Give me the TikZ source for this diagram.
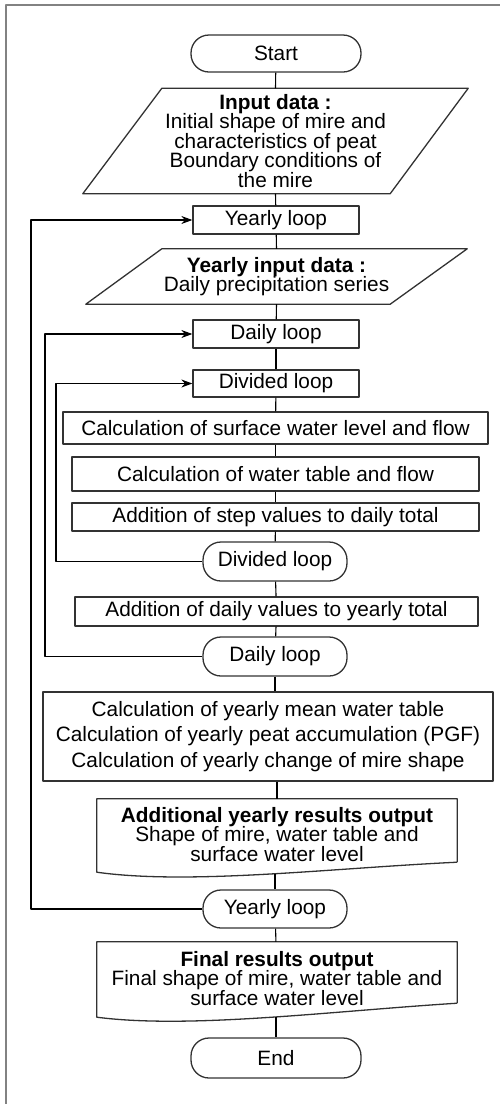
\documentclass[tikz,border=0pt]{standalone}
\usepackage{fontspec}
\setmainfont{Liberation Sans}
\usetikzlibrary{calc,arrows.meta}
\definecolor{boxc}{RGB}{50,50,50}
\definecolor{framec}{RGB}{130,130,130}
\tikzset{
	box/.style={draw=boxc,line width=1.3pt,rectangle,inner sep=0pt,align=center},
	term/.style={box,rounded corners=18pt},
	io/.style={rectangle,inner sep=0pt,align=center},
	outl/.style={boxc,line width=1.3pt},
	conn/.style={line width=1.1pt,black},
	loopln/.style={conn,-{Stealth[length=11pt,width=8pt]}}
}
\begin{document}
\begin{tikzpicture}[x=1pt,y=-1pt,line join=round,font=\fontsize{20.8}{19.5}\selectfont]
	\useasboundingbox (0,0) rectangle (500,1104);
	\draw[framec,line width=1.5pt] (500,5)--(6,5)--(6,1104);
	% nodes
	\node[term,minimum width=170,minimum height=37] (start) at (276,53.5) {Start};
	\node[io,minimum width=385,minimum height=105] (indata) at (275.5,141) {\textbf{Input data :}\\Initial shape of mire and\\characteristics of peat\\Boundary conditions of\\the mire};
	\node[box,minimum width=166,minimum height=28] (yearly) at (276,220) {Yearly loop};
	\node[io,minimum width=381,minimum height=55] (yindata) at (276.5,276.5) {\textbf{Yearly input data :}\\Daily precipitation series};
	\node[box,minimum width=166,minimum height=28] (daily) at (276,334) {Daily loop};
	\node[box,minimum width=166,minimum height=27] (divided) at (276,383.5) {Divided loop};
	\node[box,minimum width=425,minimum height=32] (surf) at (275.5,428) {Calculation of surface water level and flow};
	\node[box,minimum width=407,minimum height=34] (wtab) at (275.5,474) {Calculation of water table and flow};
	\node[box,minimum width=407,minimum height=28] (stepsum) at (275.5,517) {Addition of step values to daily total};
	\node[term,minimum width=144,minimum height=39] (dividedend) at (275,561.5) {Divided loop};
	\node[box,minimum width=403,minimum height=29] (daysum) at (276.5,611.5) {Addition of daily values to yearly total};
	\node[term,minimum width=144,minimum height=39] (dailyend) at (275,656.5) {Daily loop};
	\node[box,minimum width=450,minimum height=89,font=\fontsize{20.8}{25.5}\selectfont] (ycalc) at (268,736.5) {Calculation of yearly mean water table\\Calculation of yearly peat accumulation (PGF)\\Calculation of yearly change of mire shape};
	\node[io,minimum width=360,minimum height=71] (yout) at (277,834.5) {\textbf{Additional yearly results output}\\Shape of mire, water table and\\surface water level};
	\node[term,minimum width=144,minimum height=38] (yearlyend) at (275,909) {Yearly loop};
	\node[io,minimum width=360,minimum height=73] (fout) at (277,978.5) {\textbf{Final results output}\\Final shape of mire, water table and\\surface water level};
	\node[term,minimum width=170,minimum height=40] (end) at (276,1058) {End};
	% outlines of input and output nodes
	\draw[outl] ($(indata.north west)+(79,0)$)--(indata.north east)--($(indata.south east)-(78,0)$)--(indata.south west)--cycle;
	\draw[outl] ($(yindata.north west)+(76,0)$)--(yindata.north east)--($(yindata.south east)-(77,0)$)--(yindata.south west)--cycle;
	\draw[outl] ($(yout.south east)+(0,-8)$)--(yout.north east)--(yout.north west)--($(yout.south west)+(0,2)$)
		..controls++(93,13) and ++(-127,6)..coordinate[pos=0.53](youtb)($(yout.south east)+(0,-8)$);
	\draw[outl] ($(fout.south east)+(0,-12)$)--(fout.north east)--(fout.north west)--($(fout.south west)+(0,2)$)
		..controls++(93,12) and ++(-127,8)..coordinate[pos=0.53](foutb)($(fout.south east)+(0,-12)$);
	% main line
	\draw[conn] (start)--(indata.north);
	\draw[conn] (indata.south)--(yearly);
	\draw[conn] (yearly)--(yindata.north);
	\draw[conn] (yindata.south)--(daily);
	\draw[conn] (daily)--(divided);
	\draw[conn] (divided)--(surf);
	\draw[conn] (surf)--(wtab);
	\draw[conn] (wtab)--(stepsum);
	\draw[conn] (stepsum)--(dividedend);
	\draw[conn] (dividedend)--(daysum);
	\draw[conn] (daysum)--(dailyend);
	\draw[conn] (dailyend.south)--(dailyend.south|-ycalc.north);
	\draw[conn] (ycalc.south-|yout.north)--(yout.north);
	\draw[conn] (yearlyend.north|-youtb)--(yearlyend.north);
	\draw[conn] (yearlyend)--(fout);
	\draw[conn] (end.north|-foutb)--(end.north);
	% loops
	\coordinate (yl) at (31,0);
	\coordinate (dl) at (45,0);
	\coordinate (vl) at (56,0);
	\draw[loopln] (yearlyend.west)--(yearlyend.west-|yl)|-(yearly.west);
	\draw[loopln] (dailyend.west)--(dailyend.west-|dl)|-(daily.west);
	\draw[loopln] (dividedend.west)--(dividedend.west-|vl)|-(divided.west);
\end{tikzpicture}
\end{document}
